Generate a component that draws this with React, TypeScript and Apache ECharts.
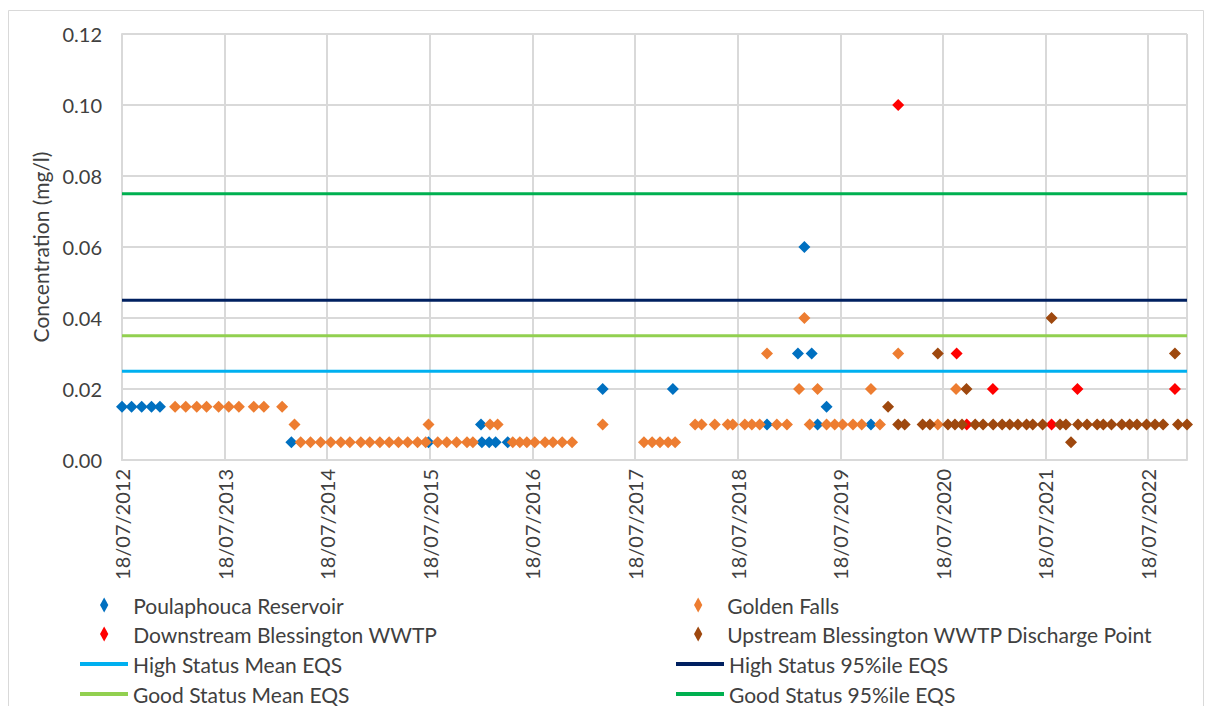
import React, { useEffect, useRef } from 'react';
import * as echarts from 'echarts';

const BASE_DATE = '2012-07-18';
const AXIS_END_DATE = '2022-12-04';
const DAYS_PER_YEAR = 365.25;
const Y_MIN = 0;
const Y_MAX = 0.12;
const Y_STEP = 0.02;

const siteNames = [
  'Poulaphouca Reservoir',
  'Golden Falls',
  'Downstream Blessington WWTP',
  'Upstream Blessington WWTP Discharge Point',
];
const siteColors = ['#0070C0', '#ED7D31', '#FF0000', '#9E480E'];

const poulaphouca: [string, number][] = [
  ['2012-07-18', 0.015], ['2012-08-21', 0.015], ['2012-09-26', 0.015], ['2012-10-31', 0.015], ['2012-11-30', 0.015],
  ['2014-03-13', 0.005], ['2015-07-14', 0.005],
  ['2016-01-17', 0.01], ['2016-01-20', 0.005], ['2016-02-15', 0.005], ['2016-03-09', 0.005], ['2016-04-21', 0.005],
  ['2017-03-25', 0.02], ['2017-11-30', 0.02],
  ['2018-10-31', 0.01], ['2019-02-18', 0.03], ['2019-03-13', 0.06], ['2019-04-08', 0.03], ['2019-04-29', 0.01],
  ['2019-05-31', 0.015], ['2019-11-05', 0.01],
];

const goldenFalls: [string, number][] = [
  ['2013-01-23', 0.015], ['2013-03-02', 0.015], ['2013-04-10', 0.015], ['2013-05-15', 0.015], ['2013-06-27', 0.015],
  ['2013-08-02', 0.015], ['2013-09-07', 0.015], ['2013-10-30', 0.015], ['2013-12-05', 0.015], ['2014-02-08', 0.015],
  ['2014-03-24', 0.01],
  ['2014-04-15', 0.005], ['2014-05-20', 0.005], ['2014-06-25', 0.005], ['2014-07-31', 0.005], ['2014-09-05', 0.005],
  ['2014-10-07', 0.005], ['2014-11-15', 0.005], ['2014-12-17', 0.005], ['2015-01-22', 0.005], ['2015-02-24', 0.005],
  ['2015-03-29', 0.005], ['2015-05-01', 0.005], ['2015-06-05', 0.005], ['2015-07-04', 0.005],
  ['2015-07-14', 0.01],
  ['2015-08-16', 0.005], ['2015-09-17', 0.005], ['2015-10-22', 0.005], ['2015-11-28', 0.005], ['2015-12-19', 0.005],
  ['2016-02-18', 0.01], ['2016-03-16', 0.01],
  ['2016-05-09', 0.005], ['2016-06-03', 0.005], ['2016-06-28', 0.005], ['2016-07-26', 0.005], ['2016-09-01', 0.005],
  ['2016-09-29', 0.005], ['2016-11-01', 0.005], ['2016-12-06', 0.005],
  ['2017-03-25', 0.01],
  ['2017-08-19', 0.005], ['2017-09-17', 0.005], ['2017-10-15', 0.005], ['2017-11-13', 0.005], ['2017-12-08', 0.005],
  ['2018-02-17', 0.01], ['2018-03-12', 0.01], ['2018-04-28', 0.01], ['2018-06-13', 0.01], ['2018-07-01', 0.01],
  ['2018-08-13', 0.01], ['2018-09-07', 0.01], ['2018-10-05', 0.01], ['2018-10-31', 0.03], ['2018-12-05', 0.01],
  ['2019-01-10', 0.01], ['2019-02-22', 0.02], ['2019-03-13', 0.04], ['2019-04-01', 0.01], ['2019-04-29', 0.02],
  ['2019-05-31', 0.01], ['2019-06-29', 0.01], ['2019-07-27', 0.01], ['2019-09-02', 0.01], ['2019-10-03', 0.01],
  ['2019-11-05', 0.02], ['2019-12-07', 0.01], ['2020-02-10', 0.03], ['2020-06-30', 0.01], ['2020-09-03', 0.02],
];

const downstream: [string, number][] = [
  ['2020-02-10', 0.1], ['2020-09-05', 0.03], ['2020-10-11', 0.01], ['2021-01-12', 0.02],
  ['2021-08-09', 0.01], ['2021-11-09', 0.02], ['2022-10-22', 0.02],
];

const upstream: [string, number][] = [
  ['2020-01-05', 0.015], ['2020-02-10', 0.01], ['2020-03-04', 0.01], ['2020-05-07', 0.01], ['2020-06-02', 0.01],
  ['2020-06-30', 0.03], ['2020-08-05', 0.01], ['2020-08-30', 0.01], ['2020-09-24', 0.01], ['2020-10-10', 0.02],
  ['2020-11-10', 0.01], ['2020-12-08', 0.01], ['2021-01-13', 0.01], ['2021-02-14', 0.01], ['2021-03-13', 0.01],
  ['2021-04-11', 0.01], ['2021-05-12', 0.01], ['2021-06-03', 0.01], ['2021-07-08', 0.01], ['2021-08-09', 0.04],
  ['2021-09-08', 0.01], ['2021-09-29', 0.01], ['2021-10-17', 0.005], ['2021-11-11', 0.01], ['2021-12-13', 0.01],
  ['2022-01-18', 0.01], ['2022-02-09', 0.01], ['2022-03-10', 0.01], ['2022-04-16', 0.01], ['2022-05-14', 0.01],
  ['2022-06-09', 0.01], ['2022-07-13', 0.01], ['2022-08-12', 0.01], ['2022-09-10', 0.01], ['2022-10-22', 0.03],
  ['2022-11-02', 0.01], ['2022-12-04', 0.01],
];

const eqsNames = ['High Status Mean EQS', 'High Status 95%ile EQS', 'Good Status Mean EQS', 'Good Status 95%ile EQS'];
const eqsValues = [0.025, 0.045, 0.035, 0.075];
const eqsColors = ['#00B0F0', '#002060', '#92D050', '#00B050'];

const FONT = 'Lato, "Open Sans", sans-serif';
const TEXT_COLOR = '#404040';
const GRID_COLOR = '#D9D9D9';

function toUTC(s: string): number {
  const [y, m, d] = s.split('-').map(Number);
  return Date.UTC(y, m - 1, d);
}
const BASE_MS = toUTC(BASE_DATE);
function dayOf(s: string): number {
  return (toUTC(s) - BASE_MS) / 86400000;
}
function fmtDate(days: number): string {
  const dt = new Date(BASE_MS + days * 86400000);
  const dd = String(dt.getUTCDate()).padStart(2, '0');
  const mm = String(dt.getUTCMonth() + 1).padStart(2, '0');
  return `${dd}/${mm}/${dt.getUTCFullYear()}`;
}

export default function App() {
  const ref = useRef<HTMLDivElement>(null);
  useEffect(() => {
    document.body.style.margin = '0';
    if (!ref.current) return;
    const chart = echarts.init(ref.current, undefined, { renderer: 'svg' });
    const xMax = dayOf(AXIS_END_DATE);
    const siteData = [poulaphouca, goldenFalls, downstream, upstream];
    const diamondIcon = 'path://M5,0L10,9L5,18L0,9Z';

    const scatterSeries = siteNames.map((name, i) => ({
      name,
      type: 'scatter',
      symbol: 'diamond',
      symbolSize: 12,
      itemStyle: { color: siteColors[i], opacity: 1 },
      data: siteData[i].map(([d, v]) => [dayOf(d), v]),
      z: 3,
    }));
    const lineSeries = eqsNames.map((name, i) => ({
      name,
      type: 'line',
      symbol: 'none',
      showSymbol: false,
      lineStyle: { color: eqsColors[i], width: 3 },
      itemStyle: { color: eqsColors[i] },
      data: [[0, eqsValues[i]], [xMax, eqsValues[i]]],
      z: 4,
    }));

    const allNames = [...siteNames, ...eqsNames];
    const rowCenters = [605, 634, 664, 694];
    const legends = allNames.map((name, i) => {
      const isSite = i < 4;
      const col = i % 2;
      return {
        data: isSite ? [{ name, icon: diamondIcon }] : [{ name, icon: 'rect' }],
        left: isSite ? (col === 0 ? 100 : 694) : (col === 0 ? 80 : 676),
        top: rowCenters[Math.floor(i / 2)] - 11,
        padding: 0,
        itemWidth: 48,
        itemHeight: isSite ? 15 : 4,
        itemGap: 0,
        selectedMode: false,
        textStyle: { fontFamily: FONT, fontSize: 21, color: TEXT_COLOR, lineHeight: 22 },
      };
    });

    chart.setOption({
      animation: false,
      backgroundColor: '#fff',
      textStyle: { fontFamily: FONT },
      grid: { left: 122, right: 23, top: 34, bottom: 246, containLabel: false },
      legend: legends,
      xAxis: {
        type: 'value',
        min: 0,
        max: xMax,
        interval: DAYS_PER_YEAR,
        axisLine: { show: true, lineStyle: { color: GRID_COLOR, width: 2 } },
        axisTick: { show: false },
        splitLine: { show: true, lineStyle: { color: GRID_COLOR, width: 2 } },
        axisLabel: {
          rotate: 90,
          margin: 9,
          showMaxLabel: false,
          fontFamily: FONT,
          fontSize: 20,
          color: TEXT_COLOR,
          formatter: (v: number) => fmtDate(v),
        },
      },
      yAxis: {
        type: 'value',
        min: Y_MIN,
        max: Y_MAX,
        interval: Y_STEP,
        name: 'Concentration (mg/l)',
        nameLocation: 'middle',
        nameGap: 71,
        nameTextStyle: { fontFamily: FONT, fontSize: 21, color: TEXT_COLOR },
        axisLine: { show: true, lineStyle: { color: GRID_COLOR, width: 2 } },
        axisTick: { show: false },
        splitLine: { show: true, lineStyle: { color: GRID_COLOR, width: 2 } },
        axisLabel: {
          margin: 20,
          fontFamily: FONT,
          fontSize: 20,
          color: TEXT_COLOR,
          formatter: (v: number) => v.toFixed(2),
        },
      },
      graphic: [
        {
          type: 'rect',
          shape: { x: 8.5, y: 10.5, width: 1195, height: 720 },
          style: { fill: 'none', stroke: GRID_COLOR, lineWidth: 1 },
          silent: true,
          z: -1,
        },
      ],
      series: [...scatterSeries, ...lineSeries],
    });
    return () => chart.dispose();
  }, []);
  return <div ref={ref} style={{ width: 1210, height: 706 }} />;
}
